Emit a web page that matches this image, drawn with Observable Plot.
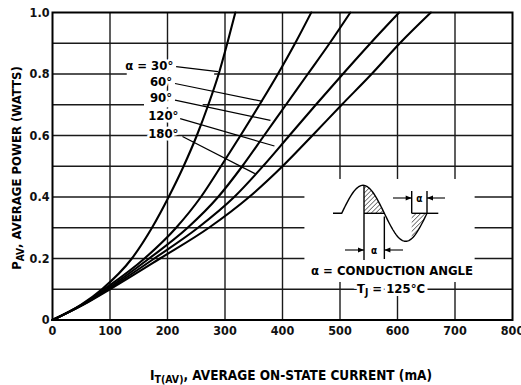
<!DOCTYPE html>
<html><head><meta charset="utf-8">
<script src="https://cdn.jsdelivr.net/npm/d3@7"></script>
<script src="https://cdn.jsdelivr.net/npm/@observablehq/plot@0.6"></script>
<style>
body{margin:0;background:#fff;}
#chart svg{display:block;}
</style></head><body><div id="chart"></div>
<script>
// ---- data ----
const powerLevels = [0, 0.05, 0.1, 0.2, 0.3, 0.4, 0.5, 0.6, 0.7, 0.8, 0.9, 1.0]; // watts
const angles = ["30°", "60°", "90°", "120°", "180°"];
const current30  = [0, 50, 86, 138, 173, 202, 228, 251, 271, 289, 304, 318];   // mA
const current60  = [0, 51, 90, 160, 215, 258, 293, 327, 360, 392, 422, 450];
const current90  = [0, 52, 94, 168, 235, 288, 330, 368, 406, 444, 482, 518];
const current120 = [0, 53, 97, 177, 253, 316, 366, 412, 458, 505, 553, 603];
const current180 = [0, 54, 100, 187, 272, 342, 400, 452, 503, 555, 604, 658];
const xTicks = [0, 100, 200, 300, 400, 500, 600, 700, 800];
const yTicks = [0, 0.2, 0.4, 0.6, 0.8, 1.0];
const xGrid = [100, 200, 300, 400, 500, 600, 700];
const yGrid = [0.1, 0.2, 0.3, 0.4, 0.5, 0.6, 0.7, 0.8, 0.9];

// curve labels and their leader lines (data coordinates)
const labelText    = ["α = 30°", "60°", "90°", "120°", "180°"];
const labelCurrent = [210, 208, 208, 219, 219];
const labelPower   = [0.828, 0.776, 0.724, 0.665, 0.607];
const leaderFromI  = [215, 213, 213, 222, 226];
const leaderFromP  = [0.824, 0.769, 0.715, 0.655, 0.597];
const leaderToI    = [288, 365, 379, 386, 352];
const leaderToP    = [0.808, 0.711, 0.649, 0.566, 0.476];

// blank areas behind the inset and labels (data coordinates)
const maskI1 = [439, 130, 160];
const maskI2 = [735, 282, 262];
const maskP1 = [0.122, 0.79, 0.69];
const maskP2 = [0.457, 0.81, 0.71];

// ---- build tables ----
const series = [current30, current60, current90, current120, current180];
const curveData = angles.flatMap((a, i) => series[i].map((c, j) => ({angle: a, current: c, power: powerLevels[j]})));
const labels = labelText.map((t, i) => ({t, x: labelCurrent[i], y: labelPower[i]}));
const leaders = labelText.map((t, i) => ({x1: leaderFromI[i], y1: leaderFromP[i], x2: leaderToI[i], y2: leaderToP[i]}));
const masks = maskI1.map((v, i) => ({x1: v, x2: maskI2[i], y1: maskP1[i], y2: maskP2[i]}));

const FONT = '"DejaVu Sans Condensed","DejaVu Sans",sans-serif';

const plot = Plot.plot({
  width: 521, height: 385,
  marginLeft: 52, marginRight: 9, marginTop: 12, marginBottom: 65.5,
  style: {fontFamily: FONT, fontSize: "12.5px", fontWeight: "bold", background: "white", color: "#111"},
  x: {domain: [0, 800], ticks: xTicks, tickSize: 0, tickPadding: 6, label: null},
  y: {domain: [0, 1], ticks: yTicks, tickSize: 0, tickPadding: 3, label: null,
      tickFormat: d => d === 0 ? "0" : d.toFixed(1)},
  marks: [
    Plot.gridX(xGrid, {stroke: "#1a1a1a", strokeOpacity: 1, strokeWidth: 1.4}),
    Plot.gridY(yGrid, {stroke: "#1a1a1a", strokeOpacity: 1, strokeWidth: 1.4}),
    Plot.rect(masks, {x1: "x1", x2: "x2", y1: "y1", y2: "y2", fill: "white"}),
    Plot.line(curveData, {x: "current", y: "power", z: "angle", curve: "monotone-x", stroke: "black", strokeWidth: 2.1}),
    Plot.link(leaders, {x1: "x1", y1: "y1", x2: "x2", y2: "y2", stroke: "black", strokeWidth: 1.2}),
    Plot.text(labels, {x: "x", y: "y", text: "t", textAnchor: "end", fontSize: 13, fontWeight: "bold",
      fill: "black", stroke: "white", strokeWidth: 5, paintOrder: "stroke"}),
    Plot.frame({stroke: "black", strokeWidth: 2})
  ]
});
document.getElementById("chart").appendChild(plot);

// ---- axis titles with subscripts ----
const svg = d3.select(plot);
const yt = svg.append("text")
  .attr("transform", "translate(21,168) rotate(-90)")
  .attr("text-anchor", "middle").attr("font-family", FONT).attr("font-size", 13)
  .attr("font-weight", "bold").attr("fill", "black");
yt.append("tspan").text("P");
yt.append("tspan").attr("font-size", 10).attr("dy", 3).text("AV");
yt.append("tspan").attr("dy", -3).text(", AVERAGE POWER (WATTS)");

const xt = svg.append("text")
  .attr("x", 291).attr("y", 380)
  .attr("text-anchor", "middle").attr("font-family", FONT).attr("font-size", 13.5)
  .attr("font-weight", "bold").attr("fill", "black");
xt.append("tspan").text("I");
xt.append("tspan").attr("font-size", 10.5).attr("dy", 3).text("T(AV)");
xt.append("tspan").attr("dy", -3).text(", AVERAGE ON-STATE CURRENT (mA)");

// ---- inset schematic ----
const defs = svg.append("defs");
defs.append("marker").attr("id", "ah").attr("viewBox", "0 0 10 10").attr("refX", 10).attr("refY", 5)
  .attr("markerWidth", 7).attr("markerHeight", 6).attr("markerUnits", "userSpaceOnUse").attr("orient", "auto")
  .append("path").attr("d", "M0,1L10,5L0,9Z").attr("fill", "black");
const pat = defs.append("pattern").attr("id", "hatch").attr("patternUnits", "userSpaceOnUse")
  .attr("width", 3.2).attr("height", 3.2).attr("patternTransform", "rotate(45)");
pat.append("line").attr("x1", 0).attr("y1", 0).attr("x2", 0).attr("y2", 3.2).attr("stroke", "black").attr("stroke-width", 1);

const base = 213.3, x0 = 341.7, T = 85.3, A = 28;
const s = x => base - A * Math.sin(2 * Math.PI * (x - x0) / T);
const pts = (a, b, n = 40) => d3.range(n + 1).map(k => { const x = a + (b - a) * k / n; return [x, s(x)]; });
const line = d3.line();
const g = svg.append("g").attr("fill", "none").attr("stroke", "black").attr("stroke-width", 1.4);
// hatched areas
const xa = 364, xb = x0 + T / 2, xc = 411.7, xd = x0 + T;
g.append("path").attr("d", line([...pts(xa, xb), [xa, base]]) + "Z").attr("fill", "url(#hatch)").attr("stroke", "none");
g.append("path").attr("d", line([...pts(xc, xd), [xc, base]]) + "Z").attr("fill", "url(#hatch)").attr("stroke", "none");
// wave and baselines
g.append("path").attr("d", line([[333, base], ...pts(x0, xd, 80)]));
g.append("path").attr("d", line([[xa, base], [xb, base]]));
g.append("path").attr("d", line([[xc, base], [438.3, base]]));
// dimension lines (left)
g.append("path").attr("d", line([[xa, s(xa)], [xa, 260]]));
g.append("path").attr("d", line([[xb, 216.5], [xb, 259]]));
g.append("path").attr("d", line([[345, 250], [xa, 250]])).attr("marker-end", "url(#ah)").attr("stroke-width", 1.1);
g.append("path").attr("d", line([[403, 250], [xb, 250]])).attr("marker-end", "url(#ah)").attr("stroke-width", 1.1);
// dimension lines (right)
g.append("path").attr("d", line([[xc, base], [xc, 191]]));
g.append("path").attr("d", line([[xd, base], [xd, 191]]));
g.append("path").attr("d", line([[393, 198], [xc, 198]])).attr("marker-end", "url(#ah)").attr("stroke-width", 1.1);
g.append("path").attr("d", line([[445, 198], [xd, 198]])).attr("marker-end", "url(#ah)").attr("stroke-width", 1.1);

const small = (x, y, t) => svg.append("text").attr("x", x).attr("y", y).attr("text-anchor", "middle")
  .attr("font-family", FONT).attr("font-size", 10).attr("font-weight", "bold").attr("fill", "black").text(t);
small((xa + xb) / 2, 253.5, "α");
small((xc + xd) / 2, 201.5, "α");

svg.append("text").attr("x", 392).attr("y", 274.5).attr("text-anchor", "middle")
  .attr("font-family", FONT).attr("font-size", 13).attr("font-weight", "bold").attr("fill", "black")
  .text("α = CONDUCTION ANGLE");
const tj = svg.append("text").attr("x", 391).attr("y", 293).attr("text-anchor", "middle")
  .attr("font-family", FONT).attr("font-size", 13).attr("font-weight", "bold").attr("fill", "black")
  .attr("stroke", "white").attr("stroke-width", 6).attr("paint-order", "stroke");
tj.append("tspan").text("T");
tj.append("tspan").attr("font-size", 10).attr("dy", 3).text("J");
tj.append("tspan").attr("dy", -3).text(" = 125°C");
</script></body></html>
